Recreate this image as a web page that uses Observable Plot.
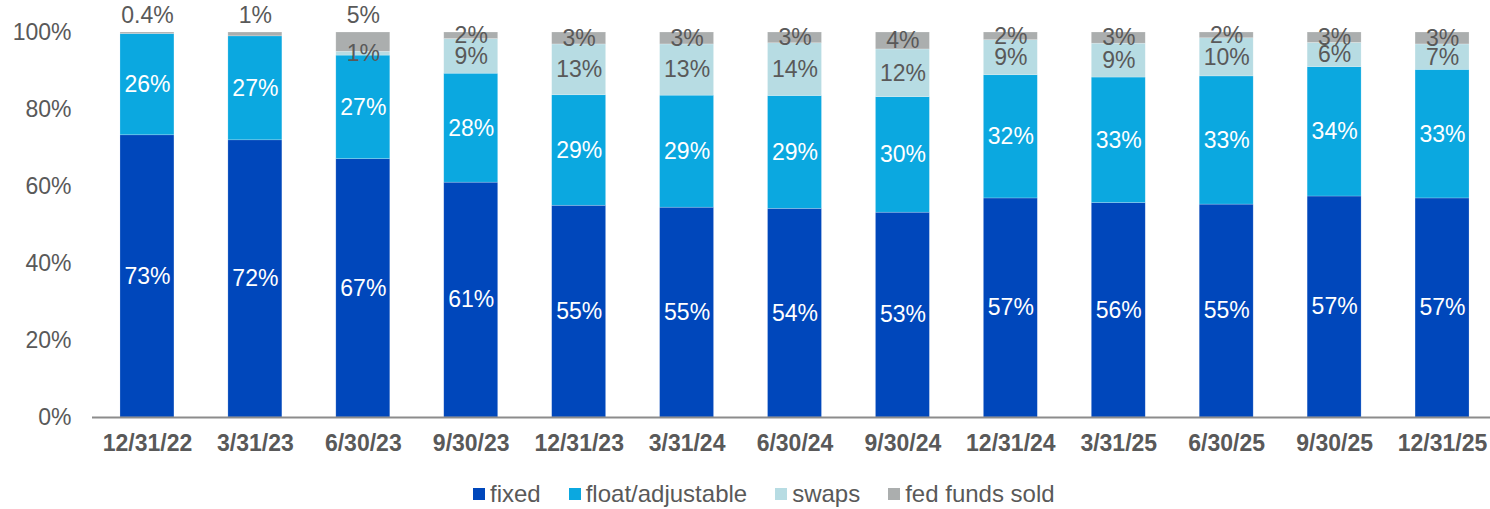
<!DOCTYPE html>
<html>
<head>
<meta charset="utf-8">
<script src="https://cdn.jsdelivr.net/npm/d3@7"></script>
<script src="https://cdn.jsdelivr.net/npm/@observablehq/plot@0.6"></script>
<style>
  html, body { margin: 0; padding: 0; background: #fff; }
  body { width: 1490px; height: 509px; overflow: hidden; font-family: "Liberation Sans", Arial, sans-serif; }
  #legend { height: 44px; display: flex; align-items: center; padding-left: 473px; padding-top: 14px; box-sizing: border-box; font-size: 24px; color: #595959; }
  #legend .item { display: flex; align-items: center; margin-right: 28px; }
  #legend .sw { width: 12px; height: 12px; margin-right: 5px; }
</style>
</head>
<body>
<div id="chart"></div>
<div id="legend"></div>
<script>
const dates = ["12/31/22","3/31/23","6/30/23","9/30/23","12/31/23","3/31/24","6/30/24","9/30/24","12/31/24","3/31/25","6/30/25","9/30/25","12/31/25"];
const seriesNames = ["fixed","float/adjustable","swaps","fed funds sold"];
const seriesColors = ["#0047BB","#0BA8E0","#B7DCE3","#ABAEAE"];
const fixed     = [73.3,72.0,67.1,61.0,55.0,54.5,54.2,53.2,56.9,55.7,55.3,57.4,56.9];
const floatAdj  = [26.3,27.0,26.9,28.3,28.7,29.1,29.3,30.0,32.0,32.6,33.3,33.6,33.4];
const swaps     = [0,0,1.0,9.0,13.2,13.3,13.7,12.4,9.1,8.8,9.9,6.3,6.6];
const fedFunds  = [0.4,1.0,5.0,1.7,3.1,3.1,2.8,4.4,2.0,2.9,1.5,2.7,3.1];
const yTicks = [0,20,40,60,80,100];
// fed funds labels drawn above the bar for these dates
const fedAbove = ["12/31/22","3/31/23","6/30/23"];

const seriesValues = [fixed, floatAdj, swaps, fedFunds];
const rows = [];
dates.forEach((d, i) => {
  let cum = 0;
  seriesNames.forEach((s, k) => {
    const v = seriesValues[k][i];
    rows.push({date: d, series: s, k, v, y1: cum, y2: cum + v, mid: cum + v / 2,
               label: (v < 1 ? v.toFixed(1) : Math.round(v)) + "%"});
    cum += v;
  });
});

const whiteLabels = rows.filter(r => r.k < 2 && r.v > 0);
const greyInside = rows.filter(r => r.k >= 2 && r.v > 0 && !(r.k === 3 && fedAbove.includes(r.date)));
const greyAbove = rows.filter(r => r.k === 3 && fedAbove.includes(r.date));

const FONT = "Liberation Sans, Arial, sans-serif";

const chart = Plot.plot({
  width: 1490,
  height: 465,
  marginTop: 32,
  marginBottom: 48,
  marginLeft: 92,
  marginRight: 0,
  style: {fontFamily: FONT, fontSize: "23px", background: "white", overflow: "visible"},
  x: {domain: dates, range: [93, 1496], paddingInner: 0.5, paddingOuter: 0.25, round: false, label: null},
  y: {domain: [0, 100], label: null},
  color: {domain: seriesNames, range: seriesColors},
  marks: [
    Plot.barY(rows, {x: "date", y1: "y1", y2: "y2", fill: "series", stroke: "white", strokeOpacity: 0.35, strokeWidth: 0.6}),
    Plot.ruleY([0], {stroke: "#8C8C8C", strokeWidth: 2}),
    Plot.text(whiteLabels, {x: "date", y: "mid", text: "label", fill: "white", fontSize: 23}),
    Plot.text(greyInside, {x: "date", y: "mid", text: "label", fill: "#595959", fontSize: 23}),
    Plot.text(greyAbove, {x: "date", y: "y2", dy: -17, text: "label", fill: "#595959", fontSize: 23}),
    Plot.axisY({ticks: yTicks, tickFormat: d => d + "%", tickSize: 0, tickPadding: 21, color: "#595959", fontSize: 23, label: null}),
    Plot.axisX({tickSize: 0, tickPadding: 17, color: "#595959", fontSize: 23, fontWeight: "bold", label: null})
  ]
});
document.getElementById("chart").appendChild(chart);

const legend = document.getElementById("legend");
seriesNames.forEach((s, k) => {
  const item = document.createElement("div");
  item.className = "item";
  const sw = document.createElement("span");
  sw.className = "sw";
  sw.style.background = seriesColors[k];
  const t = document.createElement("span");
  t.textContent = s;
  item.appendChild(sw);
  item.appendChild(t);
  legend.appendChild(item);
});
</script>
</body>
</html>
